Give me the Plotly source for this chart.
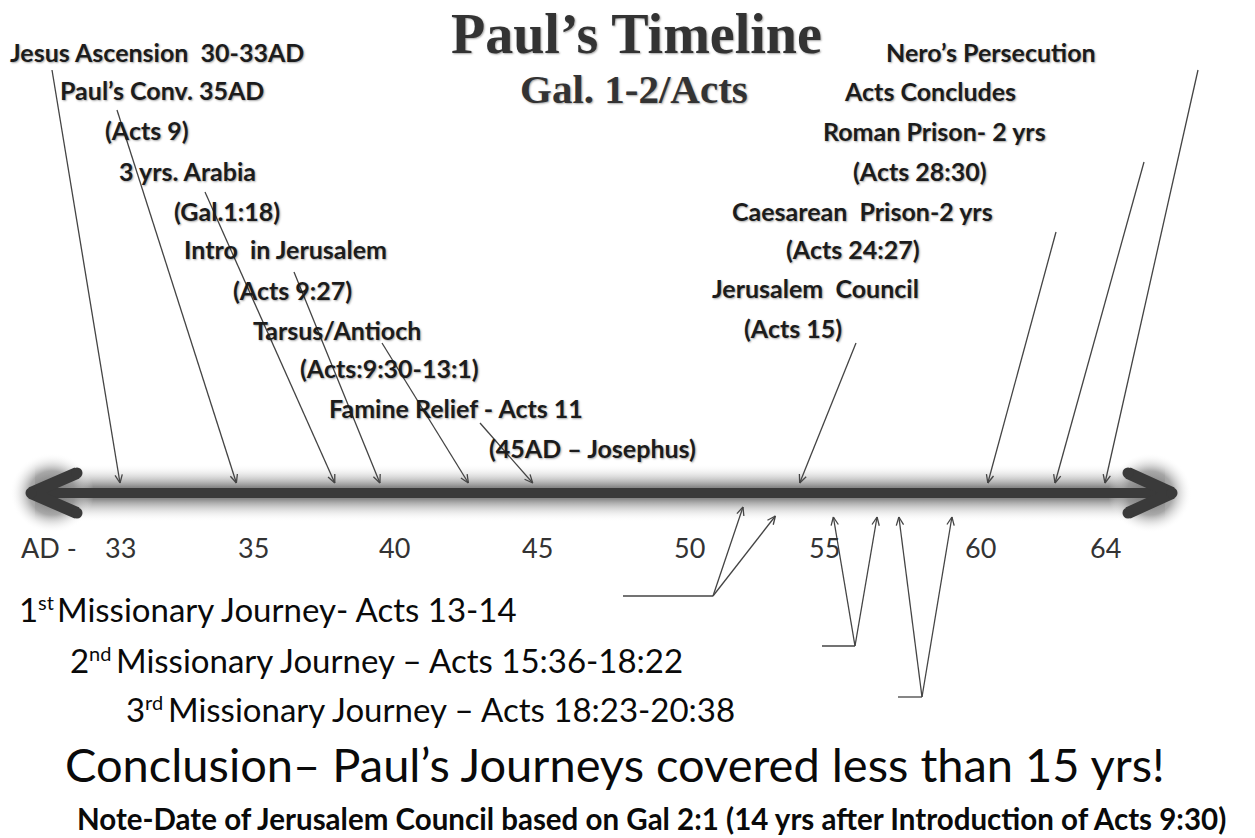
import numpy as np
import plotly.graph_objects as go

# ---------------- data ----------------
title_text = "Paul’s Timeline"
subtitle_text = "Gal. 1-2/Acts"

tick_labels = ["33", "35", "40", "45", "50", "55", "60", "64"]
tick_years = [33, 35, 40, 45, 50, 55, 60, 64]
axis_prefix = "AD -"

left_labels = ["Jesus Ascension  30-33AD", "Paul’s Conv. 35AD", "(Acts 9)", "3 yrs. Arabia",
               "(Gal.1:18)", "Intro  in Jerusalem", "(Acts 9:27)", "Tarsus/Antioch",
               "(Acts:9:30-13:1)", "Famine Relief - Acts 11", "(45AD – Josephus)"]
right_labels = ["Nero’s Persecution", "Acts Concludes", "Roman Prison- 2 yrs", "(Acts 28:30)",
                "Caesarean  Prison-2 yrs", "(Acts 24:27)", "Jerusalem  Council", "(Acts 15)"]

top_events = ["Jesus Ascension", "Paul's Conversion", "Arabia", "Intro in Jerusalem",
              "Tarsus/Antioch", "Famine Relief", "Jerusalem Council", "Caesarean Prison",
              "Roman Prison", "Nero's Persecution"]
top_event_years = [33.0, 34.75, 37.9, 39.5, 42.6, 44.85, 54.1, 60.25, 62.4, 64.0]

journey_num = ["1", "2", "3"]
journey_ord = ["st", "nd", "rd"]
journey_rest = ["Missionary Journey- Acts 13-14",
                "Missionary Journey – Acts 15:36-18:22",
                "Missionary Journey – Acts 18:23-20:38"]
journey_years = [[52.0, 53.2], [55.3, 56.7], [57.4, 59.1]]

conclusion_text = "Conclusion– Paul’s Journeys covered less than 15 yrs!"
note_text = "Note-Date of Jerusalem Council based on Gal 2:1 (14 yrs after Introduction of Acts 9:30)"

# ---------------- layout (positions / styles) ----------------
W, H = 1255, 838
tick_x = [120, 253, 394, 537, 689, 824, 980, 1105]
bar_y = 493
tip_top_y = 483

def year_x(yr):
    return float(np.interp(yr, tick_years, tick_x))

left_pos = [(157, 52), (162, 90), (147, 130), (187, 171), (227, 211), (285, 249),
            (292, 290), (337, 330), (389, 368), (456, 408), (592, 448)]
right_pos = [(991, 52), (930, 91), (934, 131), (920, 171), (862, 211), (853, 249),
             (815, 288), (793, 328)]
top_tails = [(52, 70), (117, 110), (205, 192), (294, 272), (382, 343), (480, 423),
             (856, 343), (1056, 232), (1144, 162), (1198, 70)]
journey_junction = [(713, 596), (855, 646), (922, 697)]
journey_hstart = [623, 822, 898]
journey_tip_y = [[507, 516], [517, 517], [517, 517]]
journey_text_x = [17, 68, 124]
journey_text_y = [609, 660, 709]
J_SIZE, J_SUP = 33, 20
num_w = 0.58 * J_SIZE
ord_w = {"st": 0.72 * J_SUP, "nd": 1.13 * J_SUP, "rd": 0.94 * J_SUP}

DARK = "#3a3a3a"
LINE = "#444444"
TXT = "#1c1c1c"
SANS = "Lato, 'Open Sans', sans-serif"
SERIF = "'Liberation Serif', 'DejaVu Serif', serif"
SHADOW = "1px 1px 2px rgba(0,0,0,0.35)"

fig = go.Figure()

# glow band around the timeline bar
gx0, gx1 = 35, 1165
fig.add_trace(go.Scatter(
    x=[gx0, gx1, gx1, gx0, gx0], y=[464, 464, 522, 522, 464],
    mode="lines", line=dict(width=0), fill="toself",
    fillgradient=dict(type="vertical", start=464, stop=522,
                      colorscale=[[0, "rgba(255,255,255,0)"], [0.4, "rgba(135,135,135,1)"],
                                  [0.6, "rgba(135,135,135,1)"], [1, "rgba(255,255,255,0)"]]),
    hoverinfo="skip", showlegend=False))

# radial glows at arrow ends
for cx in (52, 1150):
    t = np.linspace(0, 2 * np.pi, 60)
    fig.add_trace(go.Scatter(
        x=cx + 42 * np.cos(t), y=bar_y + 40 * np.sin(t),
        mode="lines", line=dict(width=0), fill="toself",
        fillgradient=dict(type="radial",
                          colorscale=[[0, "rgba(110,110,110,1)"], [0.55, "rgba(150,150,150,0.8)"],
                                      [1, "rgba(255,255,255,0)"]]),
        hoverinfo="skip", showlegend=False))

# the bar
fig.add_trace(go.Scatter(x=[40, 1162], y=[bar_y, bar_y], mode="lines",
                         line=dict(color=DARK, width=10), hoverinfo="skip", showlegend=False))
# chevrons
for pts in ([(77, 473), (31, bar_y), (77, 513)], [(1128, 473), (1172, bar_y), (1128, 513)]):
    fig.add_trace(go.Scatter(x=[p[0] for p in pts], y=[p[1] for p in pts], mode="lines+markers",
                             line=dict(color=DARK, width=12),
                             marker=dict(color=DARK, size=11),
                             hoverinfo="skip", showlegend=False))

# thin arrows (shaft + open head) built as line traces
ax_x, ax_y = [], []

def arrow(x0, y0, x1, y1, L=9.0, ang=np.deg2rad(24)):
    ax_x.extend([x0, x1, None])
    ax_y.extend([y0, y1, None])
    d = np.array([x1 - x0, y1 - y0], dtype=float)
    d /= np.linalg.norm(d)
    for s in (1, -1):
        c, sn = np.cos(s * ang), np.sin(s * ang)
        r = np.array([c * d[0] - sn * d[1], sn * d[0] + c * d[1]])
        ax_x.extend([x1 - L * r[0], x1, None])
        ax_y.extend([y1 - L * r[1], y1, None])

for (tx, ty), yr in zip(top_tails, top_event_years):
    arrow(tx, ty, year_x(yr), tip_top_y)
for (jx, jy), yrs, tys in zip(journey_junction, journey_years, journey_tip_y):
    for yr, ty in zip(yrs, tys):
        arrow(jx, jy, year_x(yr), ty)
for hs, (jx, jy) in zip(journey_hstart, journey_junction):
    ax_x.extend([hs, jx, None])
    ax_y.extend([jy, jy, None])

fig.add_trace(go.Scatter(x=ax_x, y=ax_y, mode="lines", line=dict(color=LINE, width=1.3),
                         hoverinfo="skip", showlegend=False))

annotations = []

def txt(x, y, s, size, family=SANS, weight="bold", color=TXT, xanchor="center", shadow=SHADOW):
    annotations.append(dict(x=x, y=y, xref="x", yref="y", text=s, showarrow=False,
                            xanchor=xanchor, yanchor="middle",
                            font=dict(family=family, size=size, color=color, weight=weight,
                                      shadow=shadow)))

# title
txt(636, 34, title_text, 56, family=SERIF, color="#333333")
txt(634, 89, subtitle_text, 41, family=SERIF, color="#333333")

# labels
for s, (x, y) in zip(left_labels, left_pos):
    txt(x, y, s, 25)
for s, (x, y) in zip(right_labels, right_pos):
    txt(x, y, s, 25)

# tick labels
txt(49, 547, axis_prefix, 27, weight="normal", color="#333333", shadow="none")
for lab, x in zip(tick_labels, tick_x):
    txt(x, 547, lab, 27, weight="normal", color="#333333", shadow="none")

# journey labels (number, raised ordinal, rest)
for n, o, r, x, y in zip(journey_num, journey_ord, journey_rest, journey_text_x, journey_text_y):
    txt(x, y, n, J_SIZE, weight="normal", color="#0a0a0a", xanchor="left", shadow="none")
    txt(x + num_w, y - 7, o, J_SUP, weight="normal", color="#0a0a0a", xanchor="left", shadow="none")
    txt(x + num_w + ord_w[o] + 4, y, r, J_SIZE, weight="normal", color="#0a0a0a",
        xanchor="left", shadow="none")

txt(615, 764, conclusion_text, 47, weight="normal", color="#0a0a0a", shadow="none")
txt(651, 818, note_text, 29.5, weight="bold", color="#0a0a0a", shadow="none")

fig.update_layout(
    width=W, height=H, margin=dict(l=0, r=0, t=0, b=0),
    paper_bgcolor="white", plot_bgcolor="white",
    xaxis=dict(range=[0, W], visible=False, fixedrange=True),
    yaxis=dict(range=[H, 0], visible=False, fixedrange=True),
    annotations=annotations, showlegend=False,
)

fig.write_html("out.html", config={"displayModeBar": False},
               post_script="document.body.style.margin='0';document.body.style.overflow='hidden';")
